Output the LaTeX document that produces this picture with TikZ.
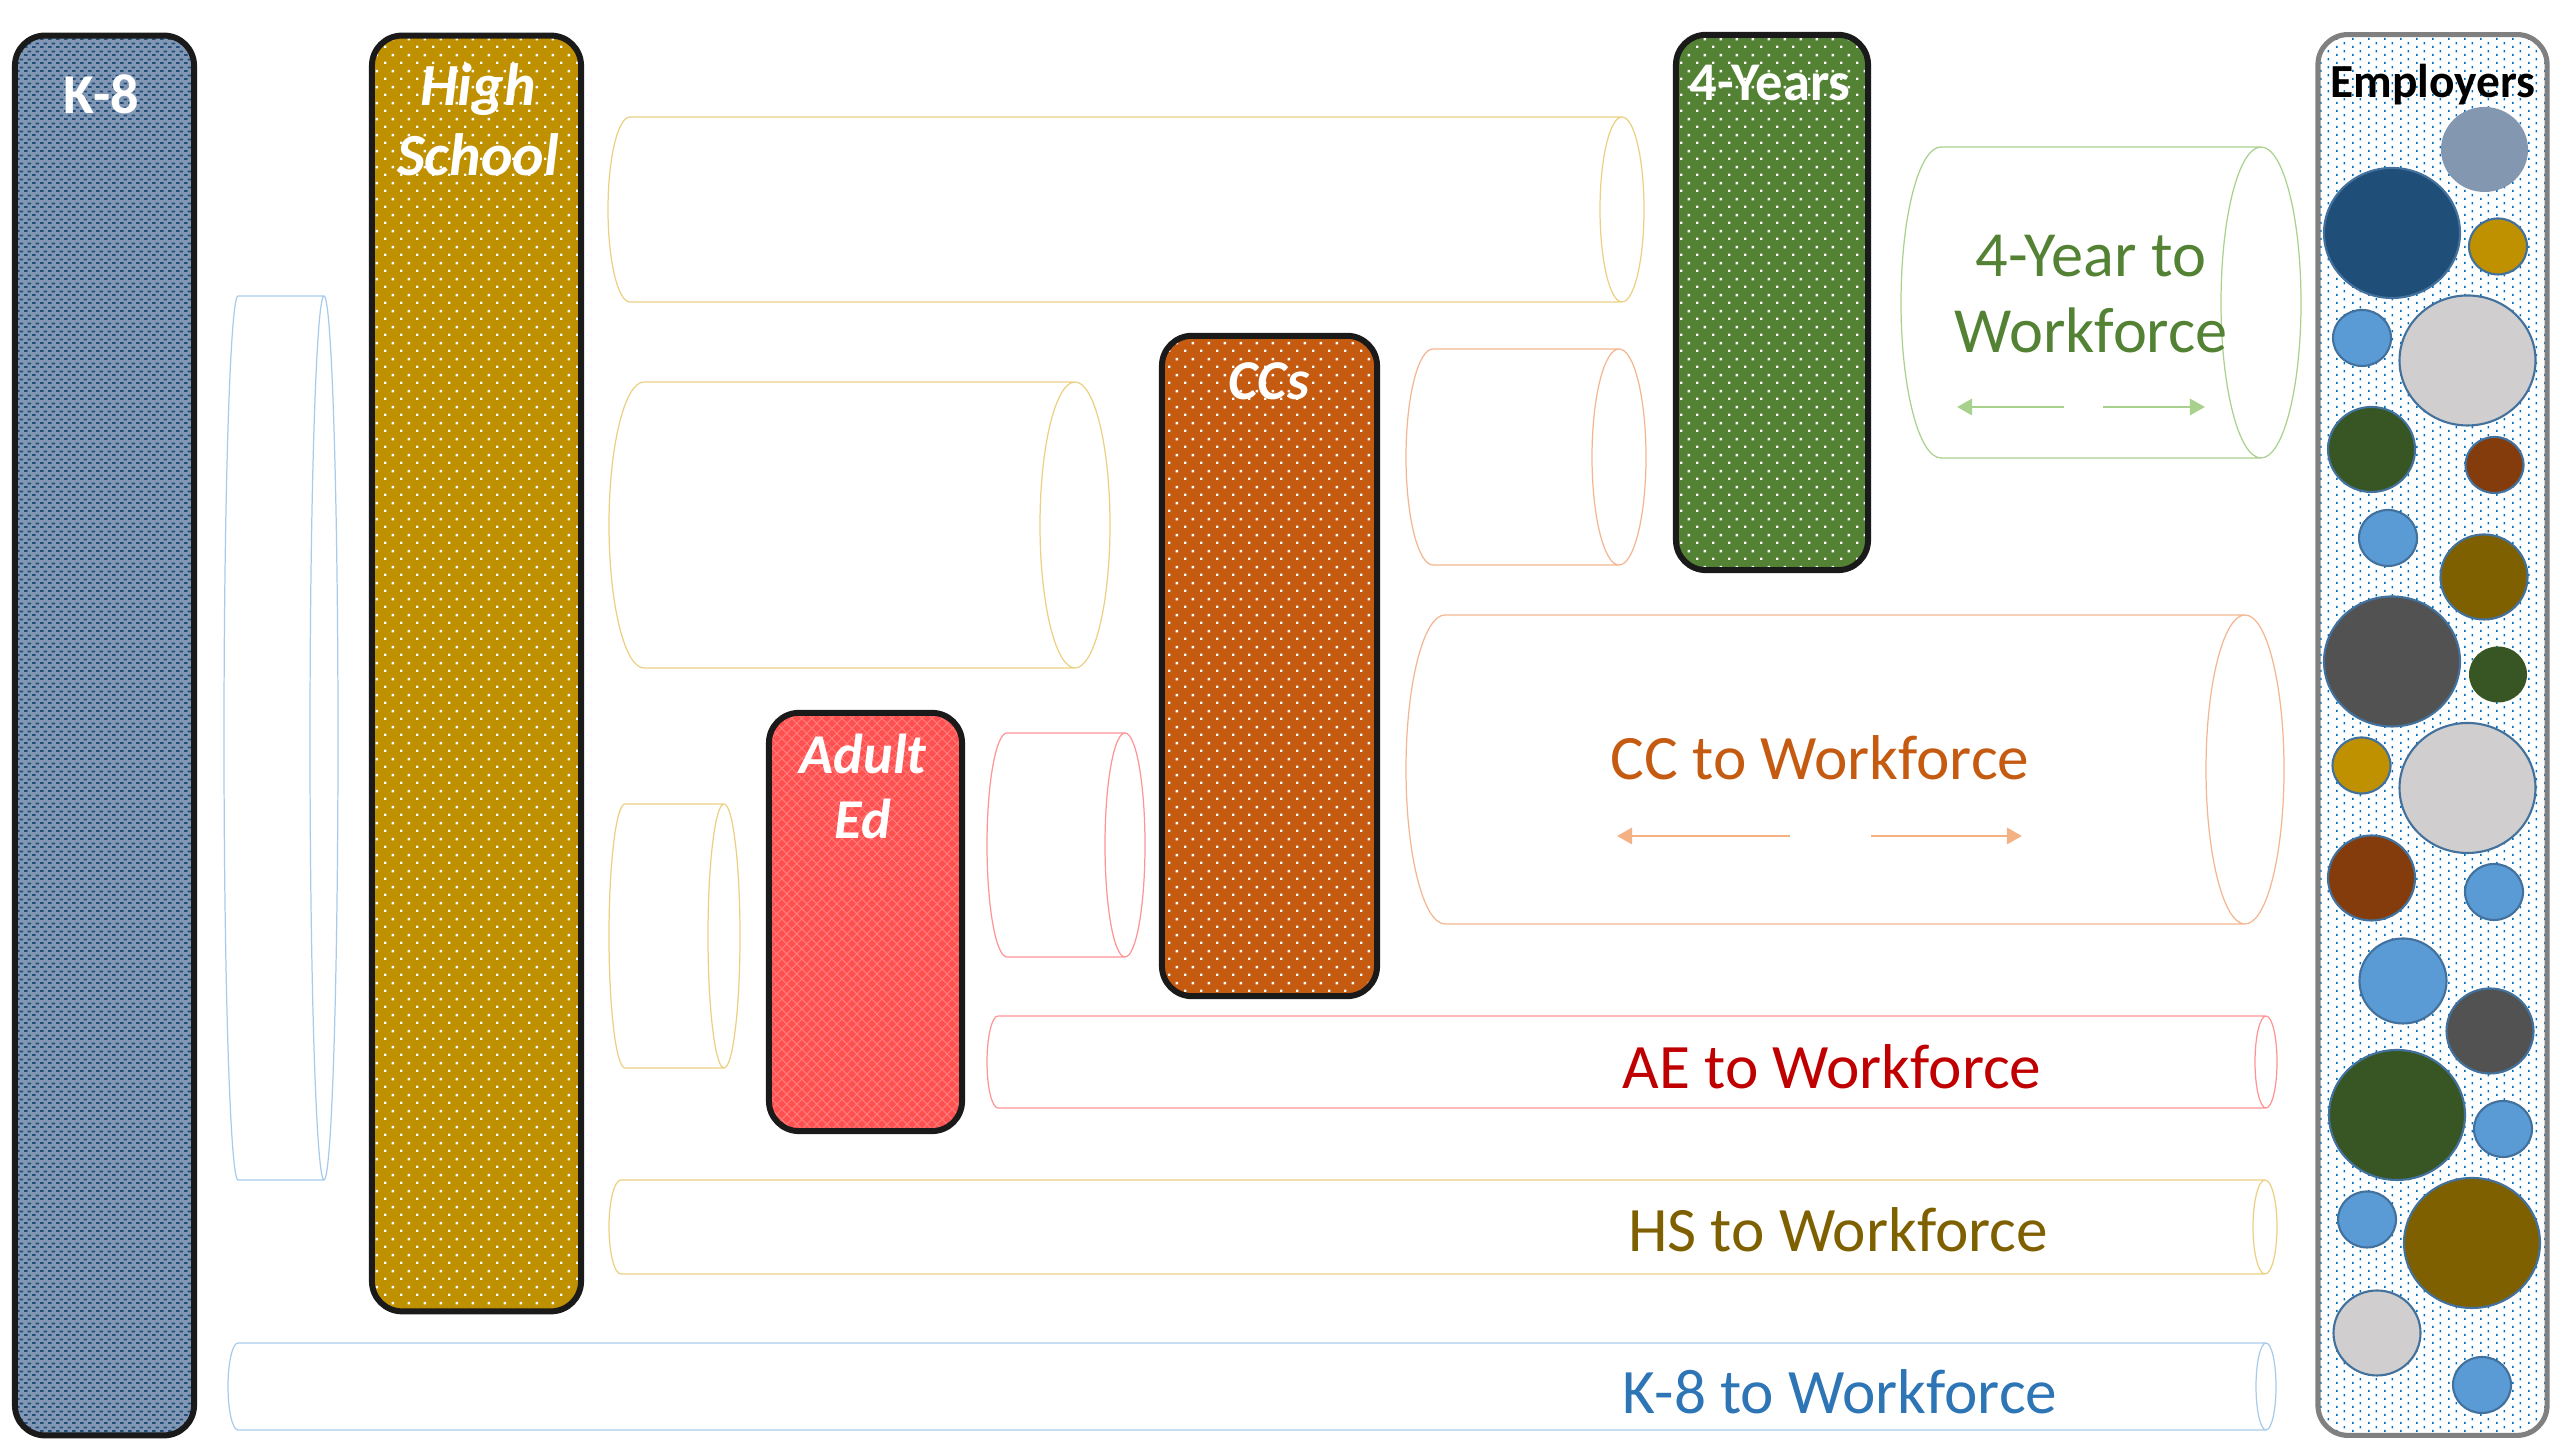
\documentclass[tikz,border=0pt]{standalone}
\usepackage{fontspec}
\setmainfont{Carlito}
\usetikzlibrary{arrows.meta,patterns,positioning}

\definecolor{boxline}{HTML}{1A1A1A}
\definecolor{kblue}{HTML}{8297B3}
\definecolor{kdark}{HTML}{1F4E79}
\definecolor{hsgold}{HTML}{BF9000}
\definecolor{ccorange}{HTML}{C55A11}
\definecolor{fygreen}{HTML}{548235}
\definecolor{aered}{HTML}{FF5050}
\definecolor{aelight}{HTML}{FF7A7A}
\definecolor{empline}{HTML}{808080}
\definecolor{empdot}{HTML}{0070C0}
\definecolor{circline}{HTML}{41719C}
\definecolor{empslate}{HTML}{8497B0}
\definecolor{empnavy}{HTML}{1F4E79}
\definecolor{empsky}{HTML}{5B9BD5}
\definecolor{empsilver}{HTML}{D0CECE}
\definecolor{empforest}{HTML}{375623}
\definecolor{empbrown}{HTML}{843C0C}
\definecolor{empolive}{HTML}{7F6000}
\definecolor{empgraphite}{HTML}{525252}
\definecolor{pipeblue}{HTML}{A9CBEA}
\definecolor{pipegold}{HTML}{EBD083}
\definecolor{pipered}{HTML}{FF9497}
\definecolor{pipeorange}{HTML}{F4B690}
\definecolor{pipegreen}{HTML}{A9D18E}
\definecolor{arrorange}{HTML}{F4B183}
\definecolor{aetext}{HTML}{C00000}
\definecolor{hstext}{HTML}{7F6000}
\definecolor{k8text}{HTML}{2E75B6}

% fill patterns of the boxes
\pgfdeclarepatternformonly{kbricks}{\pgfqpoint{0pt}{0pt}}{\pgfqpoint{2.28pt}{2.28pt}}{\pgfqpoint{2.28pt}{2.28pt}}{%
  \pgfpathrectangle{\pgfqpoint{0pt}{0pt}}{\pgfqpoint{1.14pt}{0.57pt}}%
  \pgfpathrectangle{\pgfqpoint{1.14pt}{1.14pt}}{\pgfqpoint{1.14pt}{0.57pt}}%
  \pgfusepath{fill}}
\pgfdeclarepatternformonly{wdots}{\pgfqpoint{0pt}{0pt}}{\pgfqpoint{4.55pt}{4.55pt}}{\pgfqpoint{4.55pt}{4.55pt}}{%
  \pgfpathrectangle{\pgfqpoint{0pt}{0pt}}{\pgfqpoint{0.75pt}{0.75pt}}%
  \pgfpathrectangle{\pgfqpoint{2.28pt}{2.28pt}}{\pgfqpoint{0.75pt}{0.75pt}}%
  \pgfusepath{fill}}
\pgfdeclarepatternformonly{bdots}{\pgfqpoint{0pt}{0pt}}{\pgfqpoint{4.55pt}{2.28pt}}{\pgfqpoint{4.55pt}{2.28pt}}{%
  \pgfpathrectangle{\pgfqpoint{0pt}{0pt}}{\pgfqpoint{0.5pt}{0.7pt}}%
  \pgfpathrectangle{\pgfqpoint{2.28pt}{1.14pt}}{\pgfqpoint{0.5pt}{0.7pt}}%
  \pgfusepath{fill}}
\pgfdeclarepatternformonly{ediamonds}{\pgfqpoint{-0.2pt}{-0.2pt}}{\pgfqpoint{3.05pt}{3.05pt}}{\pgfqpoint{2.85pt}{2.85pt}}{%
  \pgfsetlinewidth{0.3pt}%
  \pgfpathmoveto{\pgfqpoint{0pt}{0pt}}\pgfpathlineto{\pgfqpoint{2.85pt}{2.85pt}}%
  \pgfpathmoveto{\pgfqpoint{0pt}{2.85pt}}\pgfpathlineto{\pgfqpoint{2.85pt}{0pt}}%
  \pgfusepath{stroke}}

% pipe: colour, left x, right centre x, x radius, top y, bottom y
\newcommand{\drawpipe}[6]{%
  \draw[PipeStyle, draw=#1] ({#2+#4},#5) arc[start angle=90, end angle=270, x radius=#4, y radius={(#5-#6)/2}]
    -- (#3,#6) (#3,#5) -- ({#2+#4},#5)
    (#3,{(#5+#6)/2}) ellipse[x radius=#4, y radius={(#5-#6)/2}];}

\begin{document}
\begin{tikzpicture}[x=0.01cm, y=0.01cm]
			\tikzset{
			  SchoolBox/.style = {rectangle, rounded corners=0.3cm, draw=boxline,
			                      line width=1.7pt, inner sep=0pt},
			  BoxLabel/.style = {text=white, anchor=base, inner sep=0pt,
			                     font=\fontsize{16}{19}\selectfont\bfseries},
			  SlantLabel/.style = {BoxLabel, font=\fontsize{17}{20}\selectfont\bfseries\itshape},
			  PipeLabel/.style = {anchor=base, inner sep=0pt, font=\fontsize{18}{21}\selectfont},
			  PipeStyle/.style = {line width=0.35pt},
			  FlowArrow/.style = {-{Triangle[length=4.3pt, width=4.6pt]}, line width=0.8pt} }
			\useasboundingbox (0,0) rectangle (2560,1440);
			% pipes
			\drawpipe{pipeblue}{224}{324}{14}{1144}{260}
			\drawpipe{pipegold}{608}{1622}{22}{1323}{1138}
			\drawpipe{pipegold}{609}{1075}{35}{1058}{772}
			\drawpipe{pipegold}{609}{724}{16}{636}{372}
			\drawpipe{pipered}{987}{1125}{20}{707}{483}
			\drawpipe{pipeorange}{1406}{1619}{27}{1091}{875}
			\drawpipe{pipegreen}{1901}{2261}{40}{1293}{982}
			\drawpipe{pipeorange}{1406}{2245}{39}{825}{516}
			\drawpipe{pipered}{987}{2266}{11}{424}{332}
			\drawpipe{pipegold}{609}{2265}{12}{260}{166}
			\drawpipe{pipeblue}{228}{2266}{10}{97}{10}
			% schools
			\node (k8) [SchoolBox, minimum width=1.79cm, minimum height=13.99cm,
			  preaction={fill=kblue}, pattern=kbricks, pattern color=kdark] at (104.5,704.5) {};
			\node (hs) [SchoolBox, minimum width=2.09cm, minimum height=12.75cm,
			  preaction={fill=hsgold}, pattern=wdots, pattern color=white] at (476.5,766.5) {};
			\node (ae) [SchoolBox, minimum width=1.93cm, minimum height=4.18cm,
			  preaction={fill=aered}, pattern=ediamonds, pattern color=aelight] at (865.5,518) {};
			\node (cc) [SchoolBox, minimum width=2.15cm, minimum height=6.6cm,
			  preaction={fill=ccorange}, pattern=wdots, pattern color=white] at (1269.5,774) {};
			\node (fy) [SchoolBox, minimum width=1.92cm, minimum height=5.35cm,
			  preaction={fill=fygreen}, pattern=wdots, pattern color=white] at (1772,1137.5) {};
			\node (emp) [SchoolBox, draw=empline, line width=1.45pt, minimum width=2.29cm,
			  minimum height=14cm, preaction={fill=white}, pattern=bdots,
			  pattern color=empdot] at (2432.5,705) {};
			\node (k8txt) [BoxLabel] at (101,1326) {K-8};
			\node (hstxta) [SlantLabel] at (478,1334) {High};
			\node (hstxtb) [SlantLabel] at (478,1264) {School};
			\node (aetxta) [SlantLabel, font=\fontsize{16}{19}\selectfont\bfseries\itshape] at (863,666) {Adult};
			\node (aetxtb) [SlantLabel, font=\fontsize{16}{19}\selectfont\bfseries\itshape] at (863,601) {Ed};
			\node (cctxt) [SlantLabel, font=\fontsize{16}{19}\selectfont\bfseries\itshape] at (1269,1040) {CCs};
			\node (fytxt) [BoxLabel, font=\fontsize{15.5}{18}\selectfont\bfseries] at (1770,1339) {4-Years};
			\node (emptxt) [BoxLabel, text=black, font=\fontsize{13.5}{16}\selectfont\bfseries] at (2433,1342) {Employers};
			% employers
			\foreach \cx/\cy/\rx/\ry/\col/\edge in {
			  2484.5/1290.5/43.5/42.5/empslate/none, 2392/1207/68/65/empnavy/circline,
			  2498/1193.5/29/28/hsgold/circline, 2362/1102/29/28/empsky/circline,
			  2467.5/1079.5/68/65/empsilver/circline, 2371.5/990.5/43.5/42.5/empforest/circline,
			  2494.5/975/29/28/empbrown/circline, 2388/902/29/28/empsky/circline,
			  2484/863/43.5/42.5/empolive/circline, 2392/778.5/68/65/empgraphite/circline,
			  2498/765.5/29/28/empforest/none, 2361.5/674.5/29/28/hsgold/circline,
			  2467.5/652/68/65/empsilver/circline, 2371.5/562/43.5/42.5/empbrown/circline,
			  2494/548/29/28/empsky/circline, 2403/459/43.5/42.5/empsky/circline,
			  2490/409/43.5/42.5/empgraphite/circline, 2397/325/68/65/empforest/circline,
			  2503/311/29/28/empsky/circline, 2367/220.5/29/28/empsky/circline,
			  2472/197/68/65/empolive/circline, 2377/107/43.5/42.5/empsilver/circline,
			  2482/55/29/28/empsky/circline}
			  \filldraw[fill=\col, draw=\edge, line width=0.6pt] (\cx,\cy) ellipse[x radius=\rx, y radius=\ry];
			% pipe labels
			\node (fywfa) [PipeLabel, text=fygreen, font=\fontsize{18.3}{21}\selectfont] at (2091,1163) {4-Year to};
			\node (fywfb) [PipeLabel, text=fygreen, font=\fontsize{18.3}{21}\selectfont] at (2091,1087) {Workforce};
			\node (ccwf) [PipeLabel, text=ccorange] at (1820,660) {CC to Workforce};
			\node (aewf) [PipeLabel, text=aetext] at (1832,351) {AE to Workforce};
			\node (hswf) [PipeLabel, text=hstext] at (1838,188) {HS to Workforce};
			\node (k8wf) [PipeLabel, text=k8text] at (1840,26) {K-8 to Workforce};
			% arrows
			\coordinate (fyla) at (2064,1033); \coordinate (fylb) at (1957,1033);
			\coordinate (fyra) at (2103,1033); \coordinate (fyrb) at (2205,1033);
			\coordinate (ccla) at (1790,604); \coordinate (cclb) at (1617,604);
			\coordinate (ccra) at (1871,604); \coordinate (ccrb) at (2022,604);
			\draw[FlowArrow, pipegreen] (fyla) -- (fylb);
			\draw[FlowArrow, pipegreen] (fyra) -- (fyrb);
			\draw[FlowArrow, arrorange] (ccla) -- (cclb);
			\draw[FlowArrow, arrorange] (ccra) -- (ccrb);
		\end{tikzpicture}
\end{document}
